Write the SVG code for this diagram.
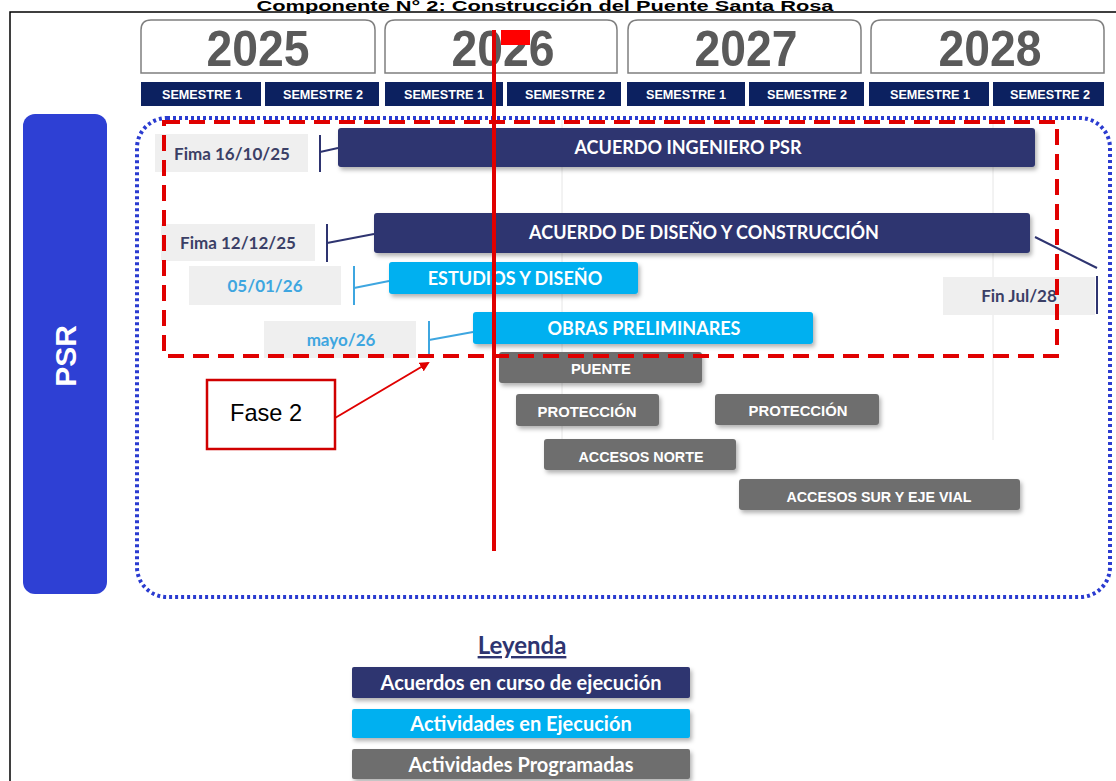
<svg xmlns="http://www.w3.org/2000/svg" width="1116" height="781" viewBox="0 0 1116 781">
<style>
.year{fill:#ffffff;stroke:#7f7f7f;stroke-width:1.5}
.yt{font-family:"Liberation Sans",Arial,sans-serif;font-weight:bold;font-size:50px;fill:#5a5a5a;text-anchor:middle}
.sem{fill:#0c2160}
.st{font-family:"Liberation Sans",Arial,sans-serif;font-weight:bold;font-size:12px;fill:#ffffff;text-anchor:middle}
.navy{fill:#2e3470}
.cyan{fill:#00b0f0}
.gray{fill:#6e6e6e}
.bt{font-family:Lato,"Open Sans",sans-serif;font-weight:bold;font-size:18px;fill:#ffffff;text-anchor:middle}
.gt{font-family:"Liberation Sans",Arial,sans-serif;font-weight:bold;font-size:14px;fill:#ffffff;text-anchor:middle}
.lbl{fill:#efefef}
.lt{font-family:Lato,"Open Sans",sans-serif;font-weight:bold;font-size:17px;fill:#3b3f66;text-anchor:middle}
.lc{font-family:Lato,"Open Sans",sans-serif;font-weight:bold;font-size:17px;fill:#3ea6e0;text-anchor:middle}
.dk{stroke:#2e3470;stroke-width:2;fill:none}
.lb{stroke:#3ea6e0;stroke-width:2;fill:none}
.leg{font-family:Lato,"Open Sans",sans-serif;font-weight:bold;font-size:20px;fill:#ffffff;text-anchor:middle}
</style>
<defs>
<filter id="sh" x="-5%" y="-20%" width="112%" height="160%">
<feDropShadow dx="2" dy="3" stdDeviation="2" flood-color="#000" flood-opacity="0.3"/>
</filter>
<marker id="ah" markerWidth="10" markerHeight="10" refX="8" refY="5" orient="auto" markerUnits="userSpaceOnUse">
<path d="M0,0 L10,5 L0,10 z" fill="#e00000"/>
</marker>
</defs>
<rect width="1116" height="781" fill="#ffffff"/>
<text x="545" y="11" font-family="Liberation Sans,Arial,sans-serif" font-weight="bold" font-size="14" fill="#000" text-anchor="middle" textLength="577" lengthAdjust="spacingAndGlyphs">Componente N° 2: Construcción del Puente Santa Rosa</text>
<rect x="10" y="12" width="1120" height="780" fill="none" stroke="#000" stroke-width="1.5"/>

<g id="years">
<path class="year" d="M141,73 V30 Q141,20 151,20 H365 Q375,20 375,30 V73 Z"/>
<text class="yt" x="258" y="66" textLength="103" lengthAdjust="spacingAndGlyphs">2025</text>
<path class="year" d="M385,73 V30 Q385,20 395,20 H607 Q617,20 617,30 V73 Z"/>
<text class="yt" x="503" y="66" textLength="103" lengthAdjust="spacingAndGlyphs">2026</text>
<path class="year" d="M628,73 V30 Q628,20 638,20 H851 Q861,20 861,30 V73 Z"/>
<text class="yt" x="746" y="66" textLength="103" lengthAdjust="spacingAndGlyphs">2027</text>
<path class="year" d="M871,73 V30 Q871,20 881,20 H1094 Q1104,20 1104,30 V73 Z"/>
<text class="yt" x="990" y="66" textLength="103" lengthAdjust="spacingAndGlyphs">2028</text>
</g>
<g id="semesters">
<rect class="sem" x="141" y="82" width="120" height="24"/><text class="st" x="202" y="99" textLength="80" lengthAdjust="spacingAndGlyphs">SEMESTRE 1</text>
<rect class="sem" x="265" y="82" width="114" height="24"/><text class="st" x="323" y="99" textLength="80" lengthAdjust="spacingAndGlyphs">SEMESTRE 2</text>
<rect class="sem" x="385" y="82" width="118" height="24"/><text class="st" x="444" y="99" textLength="80" lengthAdjust="spacingAndGlyphs">SEMESTRE 1</text>
<rect class="sem" x="507" y="82" width="114" height="24"/><text class="st" x="565" y="99" textLength="80" lengthAdjust="spacingAndGlyphs">SEMESTRE 2</text>
<rect class="sem" x="627" y="82" width="118" height="24"/><text class="st" x="686" y="99" textLength="80" lengthAdjust="spacingAndGlyphs">SEMESTRE 1</text>
<rect class="sem" x="749" y="82" width="115" height="24"/><text class="st" x="807" y="99" textLength="80" lengthAdjust="spacingAndGlyphs">SEMESTRE 2</text>
<rect class="sem" x="869" y="82" width="120" height="24"/><text class="st" x="930" y="99" textLength="80" lengthAdjust="spacingAndGlyphs">SEMESTRE 1</text>
<rect class="sem" x="993" y="82" width="111" height="24"/><text class="st" x="1050" y="99" textLength="80" lengthAdjust="spacingAndGlyphs">SEMESTRE 2</text>
</g>

<g id="psr">
<rect x="23" y="114" width="84" height="480" rx="12" fill="#2e40d4"/>
<text x="65" y="356" transform="rotate(-90 65 356)" font-family="Liberation Sans,Arial,sans-serif" font-weight="bold" font-size="30" fill="#fff" text-anchor="middle" dominant-baseline="central">PSR</text>
</g>

<g id="grid" stroke="#e6e6e6" stroke-width="1">
<line x1="562" y1="120" x2="562" y2="440"/>
<line x1="993" y1="120" x2="993" y2="440"/>
</g>

<g id="psr-frame">
<rect x="137" y="118" width="973" height="479" rx="30" fill="none" stroke="#2a3bd0" stroke-width="4" stroke-dasharray="3 3"/>
</g>

<g id="connectors">
<line class="dk" x1="320" y1="135" x2="320" y2="172"/>
<line class="dk" x1="320" y1="152" x2="338" y2="148"/>
<line class="dk" x1="327" y1="224" x2="327" y2="262"/>
<line class="dk" x1="327" y1="243" x2="374" y2="234"/>
<line class="dk" x1="1035" y1="237" x2="1097" y2="268"/>
<line class="dk" x1="1097" y1="276" x2="1097" y2="314"/>
<line class="lb" x1="354" y1="266" x2="354" y2="305"/>
<line class="lb" x1="354" y1="288" x2="389" y2="281"/>
<line class="lb" x1="429" y1="321" x2="429" y2="355"/>
<line class="lb" x1="429" y1="340" x2="473" y2="332"/>
<line x1="335" y1="418" x2="428" y2="363" stroke="#e00000" stroke-width="2" marker-end="url(#ah)"/>
</g>

<g id="lbl-firma1"><rect class="lbl" x="155" y="134" width="153" height="38"/><text class="lt" x="232" y="160">Fima 16/10/25</text></g>
<g id="lbl-firma2"><rect class="lbl" x="161" y="224" width="154" height="37"/><text class="lt" x="238" y="249">Fima 12/12/25</text></g>
<g id="lbl-fin"><rect class="lbl" x="943" y="277" width="152" height="38"/><text class="lt" x="1019" y="302">Fin Jul/28</text></g>
<g id="lbl-estudios"><rect class="lbl" x="189" y="266" width="152" height="39"/><text class="lc" x="265" y="292">05/01/26</text></g>
<g id="lbl-obras"><rect class="lbl" x="264" y="321" width="152" height="37"/><text class="lc" x="341" y="346">mayo/26</text></g>

<g id="bar-ingeniero"><rect class="navy" x="338" y="128" width="697" height="39" rx="3" filter="url(#sh)"/><text class="bt" x="688" y="154">ACUERDO INGENIERO PSR</text></g>
<g id="bar-diseno"><rect class="navy" x="374" y="213" width="656" height="40" rx="3" filter="url(#sh)"/><text class="bt" x="704" y="239">ACUERDO DE DISEÑO Y CONSTRUCCIÓN</text></g>
<g id="bar-estudios"><rect class="cyan" x="389" y="262" width="249" height="32" rx="3" filter="url(#sh)"/><text class="bt" x="515" y="285">ESTUDIOS Y DISEÑO</text></g>
<g id="bar-obras"><rect class="cyan" x="473" y="312" width="340" height="32" rx="3" filter="url(#sh)"/><text class="bt" x="644" y="335">OBRAS PRELIMINARES</text></g>
<g id="bar-puente"><rect class="gray" x="499" y="352" width="203" height="31" rx="3" filter="url(#sh)"/><text class="gt" x="601" y="374" textLength="60" lengthAdjust="spacingAndGlyphs">PUENTE</text></g>
<g id="bar-prot1"><rect class="gray" x="516" y="394" width="143" height="32" rx="3" filter="url(#sh)"/><text class="gt" x="587" y="417" textLength="99" lengthAdjust="spacingAndGlyphs">PROTECCIÓN</text></g>
<g id="bar-prot2"><rect class="gray" x="715" y="394" width="164" height="31" rx="3" filter="url(#sh)"/><text class="gt" x="798" y="416" textLength="99" lengthAdjust="spacingAndGlyphs">PROTECCIÓN</text></g>
<g id="bar-norte"><rect class="gray" x="544" y="439" width="192" height="31" rx="3" filter="url(#sh)"/><text class="gt" x="641" y="462" textLength="125" lengthAdjust="spacingAndGlyphs">ACCESOS NORTE</text></g>
<g id="bar-sur"><rect class="gray" x="739" y="479" width="281" height="31" rx="3" filter="url(#sh)"/><text class="gt" x="879" y="502" textLength="185" lengthAdjust="spacingAndGlyphs">ACCESOS SUR Y EJE VIAL</text></g>

<g id="fase2-frame">
<rect x="164" y="122" width="893" height="234" fill="none" stroke="#e00000" stroke-width="4" stroke-dasharray="16 9"/>
</g>

<g id="today-line">
<line x1="494" y1="30" x2="494" y2="551" stroke="#e00000" stroke-width="4"/>
<rect x="501" y="30" width="29" height="15" fill="#ff0000"/>
</g>

<g id="fase2">
<rect x="207" y="380" width="128" height="69" fill="#fff" stroke="#d00000" stroke-width="2.5"/>
<text x="266" y="421" font-family="Liberation Sans,Arial,sans-serif" font-size="24" fill="#000" text-anchor="middle" textLength="72" lengthAdjust="spacingAndGlyphs">Fase 2</text>
</g>

<g id="legend">
<text x="522" y="654" font-family="Lato,Open Sans,sans-serif" font-weight="bold" font-size="24" fill="#2e3470" text-anchor="middle" text-decoration="underline">Leyenda</text>
<rect class="navy" x="352" y="667" width="338" height="31" rx="2" filter="url(#sh)"/><text class="leg" x="521" y="690">Acuerdos en curso de ejecución</text>
<rect class="cyan" x="352" y="709" width="338" height="29" rx="2" filter="url(#sh)"/><text class="leg" x="521" y="731">Actividades en Ejecución</text>
<rect class="gray" x="352" y="749" width="338" height="30" rx="2" filter="url(#sh)"/><text class="leg" x="521" y="772">Actividades Programadas</text>
</g>
</svg>
